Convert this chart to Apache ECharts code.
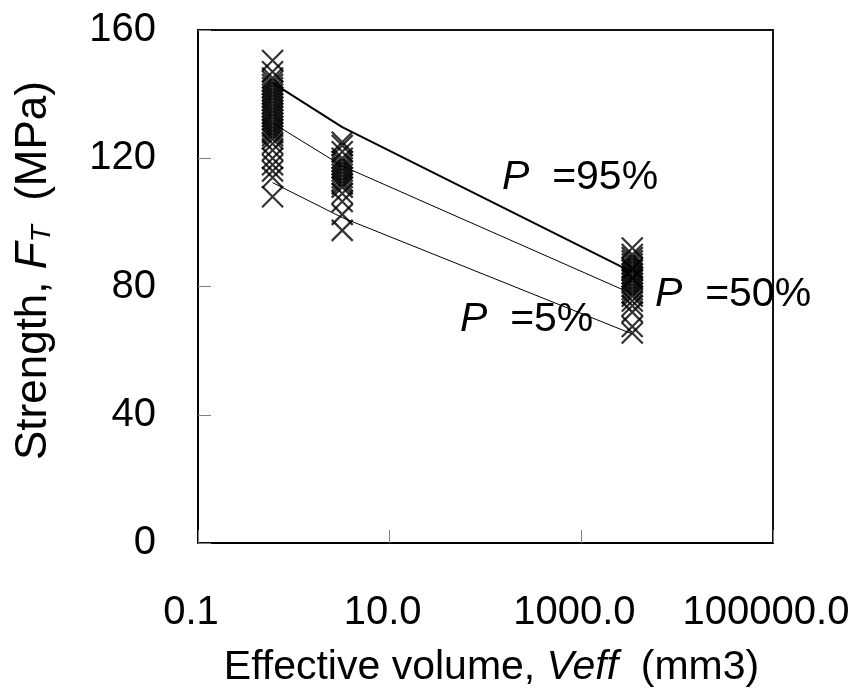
<!DOCTYPE html>
<html><head><meta charset="utf-8">
<script src="https://cdn.jsdelivr.net/npm/echarts@6/dist/echarts.min.js"></script>
<style>html,body{margin:0;padding:0;background:#fff}#c{width:864px;height:699px}</style>
</head><body><div id="c"></div>
<script>
// Effective volumes (mm3) of the three specimen groups
const volumes = [0.6, 3.2, 3400];
// Measured strengths (MPa) per group
const strengthG1 = [150.5, 147, 145, 144, 143, 142, 141, 140, 139, 138, 137, 136, 135, 134, 133, 132, 131, 130, 129, 128, 127, 126, 124.5, 122.5, 120, 118, 116, 114, 108];
const strengthG2 = [125, 124, 122, 120, 119, 118, 117, 116, 115, 114, 113, 112, 111, 109, 106.5, 102.5, 97.5];
const strengthG3 = [92, 90, 89, 88, 87, 86, 85.5, 85, 84, 83, 82.5, 82, 81, 80, 79, 78, 77, 75.5, 74, 72, 67.5, 65.5];
// Predicted strength at failure probability P
const p95 = [143.5, 129.7, 84.5];
const p50 = [131, 117.6, 77.7];
const p5 = [112.4, 101.5, 65.2];
// Axis ticks
const xTicks = [0.1, 10, 1000, 100000];
const yTicks = [0, 40, 80, 120, 160];

const FONT = "'Liberation Sans', Arial, sans-serif";
const groups = [strengthG1, strengthG2, strengthG3];
const scatterData = [];
groups.forEach((g, i) => g.forEach(v => scatterData.push([volumes[i], v])));
const toLine = arr => arr.map((v, i) => [volumes[i], v]);
const pLabel = (txt, x, y) => ({
  type: 'text', x: x, y: y,
  style: { text: '{i|P}  ' + txt, verticalAlign: 'middle', fontSize: 41, fontFamily: FONT, fill: '#000',
    rich: { i: { fontStyle: 'italic', fontSize: 41, fontFamily: FONT } } }
});

const chart = echarts.init(document.getElementById('c'));
chart.setOption({
  animation: false,
  backgroundColor: '#fff',
  grid: { left: 198, top: 30, width: 575, height: 513, show: true, borderColor: '#111', borderWidth: 2, backgroundColor: 'transparent' },
  xAxis: {
    type: 'log', logBase: 10, min: xTicks[0], max: xTicks[xTicks.length - 1],
    axisLine: { show: true, lineStyle: { color: '#000', width: 2 } },
    axisTick: { show: true, inside: true, length: 13, lineStyle: { color: '#808080', width: 1 }, customValues: xTicks },
    minorTick: { show: false },
    splitLine: { show: false },
    axisLabel: { customValues: xTicks, margin: 50, fontSize: 40, fontFamily: FONT, color: '#000', padding: [0, 14, 0, 0], formatter: v => Number(v).toFixed(1) },
    name: 'Effective volume, {i|Veff}  (mm3)', nameLocation: 'middle', nameGap: 104,
    nameTextStyle: { fontSize: 41, fontFamily: FONT, color: '#000', padding: [0, 0, 0, 12], rich: { i: { fontSize: 41, fontFamily: FONT, fontStyle: 'italic', color: '#000' } } }
  },
  yAxis: {
    type: 'value', min: yTicks[0], max: yTicks[yTicks.length - 1], interval: 40,
    axisLine: { show: true, lineStyle: { color: '#000', width: 2 } },
    axisTick: { show: true, inside: true, length: 13, lineStyle: { color: '#808080', width: 1 } },
    splitLine: { show: false },
    axisLabel: { margin: 42, fontSize: 40, fontFamily: FONT, color: '#000' },
    name: 'Strength, {i|F}{s|T}  (MPa)', nameLocation: 'middle', nameGap: 142,
    nameTextStyle: { fontSize: 44, fontFamily: FONT, color: '#000', padding: [0, 0, 0, 32], rich: {
      i: { fontSize: 44, fontFamily: FONT, fontStyle: 'italic', color: '#000' },
      s: { fontSize: 28, fontFamily: FONT, fontStyle: 'italic', color: '#000', verticalAlign: 'bottom' }
    } }
  },
  graphic: [
    pLabel('=95%', 502, 178),
    pLabel('=50%', 655, 295),
    pLabel('=5%', 460, 320)
  ],
  series: [
    { type: 'scatter', data: scatterData, symbol: 'path://M0,0L20,20M20,0L0,20', symbolSize: 21,
      itemStyle: { color: '#000', borderColor: '#000', borderWidth: 2.2 }, z: 3 },
    { type: 'line', data: toLine(p95), symbol: 'none', lineStyle: { color: '#000', width: 2 }, z: 2 },
    { type: 'line', data: toLine(p50), symbol: 'none', lineStyle: { color: '#000', width: 1 }, z: 2 },
    { type: 'line', data: toLine(p5), symbol: 'none', lineStyle: { color: '#000', width: 1 }, z: 2 }
  ]
});
</script></body></html>
